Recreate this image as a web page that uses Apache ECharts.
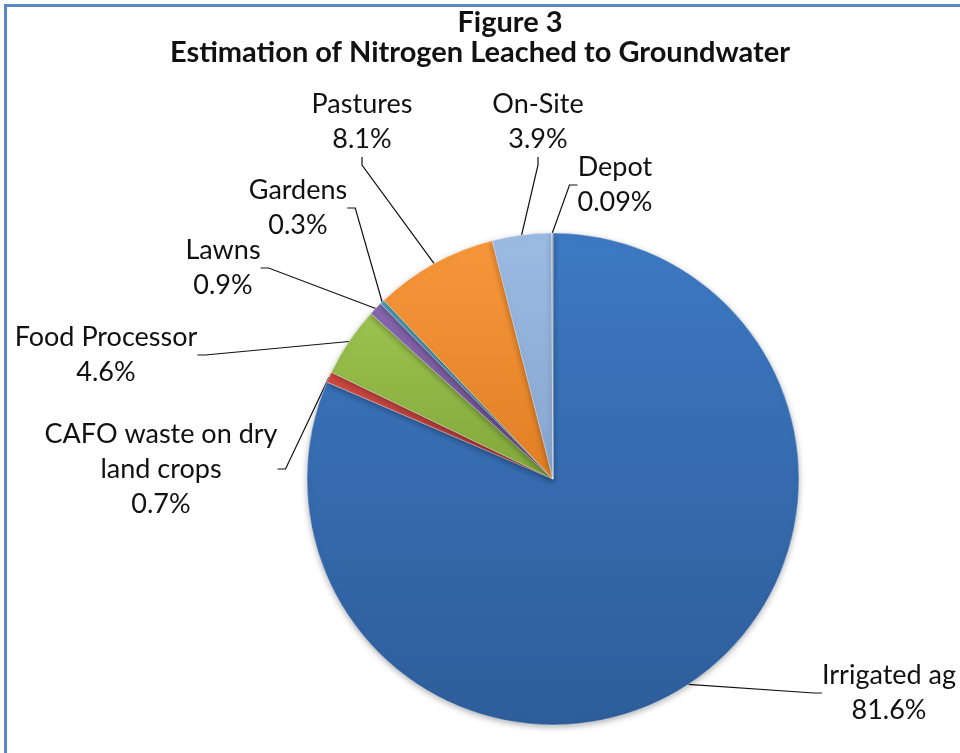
<!DOCTYPE html>
<html style="height: 100%">
   <head>
       <meta charset="utf-8">
       <title>Figure 3</title>
   </head>
   <body style="height: 100%; margin: 0; background: #fff; overflow: hidden">
       <div id="frame" style="position: absolute; left: 4px; top: 4px; width: 1000px; height: 800px; border: 3px solid #5A8AC6"></div>
       <div id="container" style="position: absolute; left: 0; top: 0; width: 960px; height: 753px"></div>
       <script type="text/javascript" src="https://cdn.jsdelivr.net/npm/echarts@6/dist/echarts.min.js"></script>
       <script type="text/javascript">
// slices, clockwise from 12 o'clock
var categories = ['Irrigated ag', 'CAFO waste on dry\nland crops', 'Food Processor', 'Lawns', 'Gardens', 'Pastures', 'On-Site', 'Depot'];
var shares = [81.6, 0.7, 4.6, 0.9, 0.3, 8.1, 3.9, 0.09];

var palette = [
    ['#3D79C3', '#2E5D9A'],
    ['#D24A44', '#B23A35'],
    ['#9CC24F', '#80A83A'],
    ['#8768AE', '#6B4F92'],
    ['#4BACC6', '#3A8EA6'],
    ['#F7963A', '#E07F24'],
    ['#9CBBE3', '#86A6D0'],
    ['#A3A8B0', '#8A9098']
];
// where Excel put each label (text block centre)
var labelSpot = [
    [889, 693], [161, 469], [106, 355], [223, 268],
    [298, 208], [362, 122], [538, 122], [615, 185]
];

var dom = document.getElementById("container");
var myChart = echarts.init(dom);

var pieData = [];
for (var i = 0; i < categories.length; i++) {
    pieData.push({
        name: categories[i],
        value: shares[i],
        itemStyle: {
            color: new echarts.graphic.LinearGradient(0, 0, 0, 1, [
                {offset: 0, color: palette[i][0]},
                {offset: 1, color: palette[i][1]}
            ])
        }
    });
}

var titleFont = {
    fontFamily: 'Lato',
    fontWeight: 'bold',
    fontSize: 29,
    lineHeight: 30,
    color: '#111'
};

var option = {
    backgroundColor: 'transparent',
    animation: false,
    title: [
        {
            text: 'Figure 3',
            left: 505,
            textAlign: 'center',
            top: 3,
            textStyle: titleFont
        },
        {
            text: 'Estimation of Nitrogen Leached to Groundwater',
            left: 'center',
            top: 33,
            textStyle: titleFont
        }
    ],
    series: [
        {
            type: 'pie',
            center: [553, 479],
            radius: 246,
            startAngle: 90,
            clockwise: true,
            avoidLabelOverlap: false,
            minShowLabelAngle: 0,
            data: pieData,
            itemStyle: {
                borderColor: 'rgba(255,255,255,0.35)',
                borderWidth: 1,
                shadowBlur: 6,
                shadowOffsetY: 2,
                shadowColor: 'rgba(0,0,0,0.3)'
            },
            label: {
                show: true,
                position: 'outside',
                formatter: '{b}\n{c}%',
                fontFamily: 'Lato',
                fontSize: 27,
                lineHeight: 35,
                color: '#111',
                align: 'center'
            },
            labelLine: {
                show: true,
                length: 10,
                length2: 8,
                lineStyle: {
                    color: '#111',
                    width: 1.2
                }
            },
            labelLayout: function (params) {
                var p = labelSpot[params.dataIndex];
                return {
                    x: p[0],
                    y: p[1],
                    align: 'center',
                    verticalAlign: 'middle'
                };
            }
        }
    ]
};
if (option && typeof option === "object") {
    myChart.setOption(option, true);
}
       </script>
   </body>
</html>
